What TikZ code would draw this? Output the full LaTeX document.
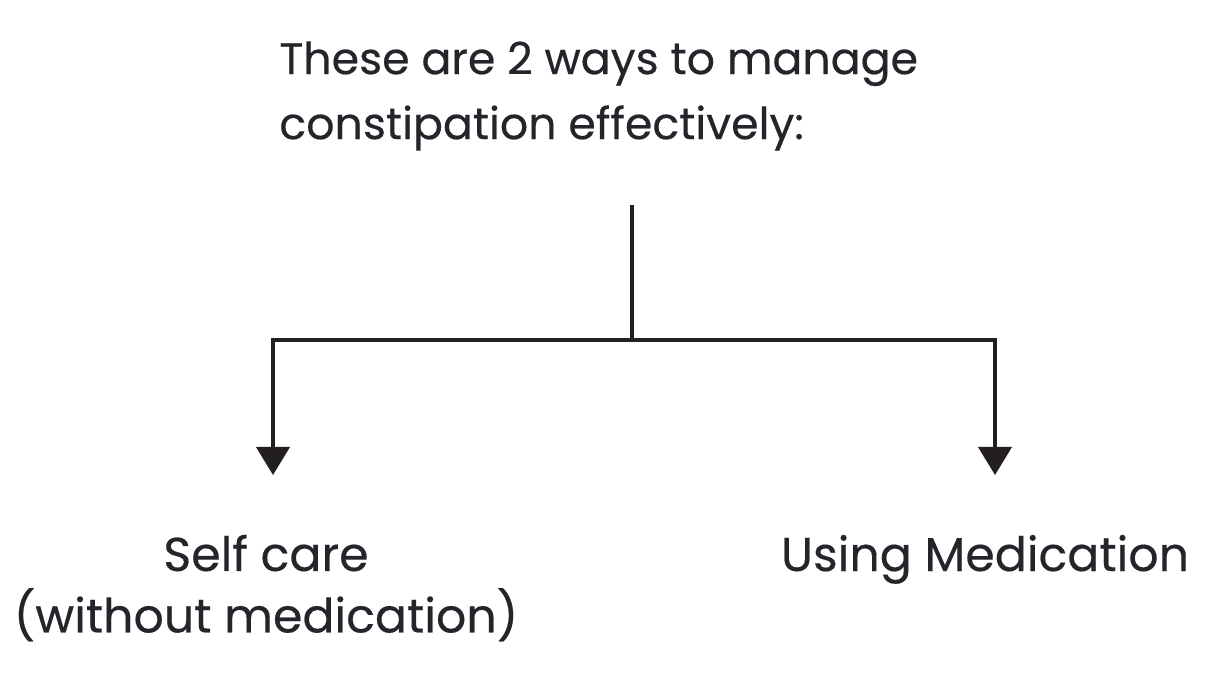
\documentclass[tikz,border=0pt]{standalone}
\usepackage{fontspec}
\setmainfont{Poppins}
\newfontfamily\diagfont{Poppins}[FakeBold=0.35]
\usetikzlibrary{arrows.meta}
\definecolor{inkdark}{HTML}{23252B}
\definecolor{linedark}{HTML}{231F20}

\begin{document}
\begin{tikzpicture}[x=0.02cm, y=-0.02cm,
		label/.style={font=\diagfont\fontsize{27}{35}\selectfont, text=inkdark, inner sep=0pt, align=center},
		link/.style={draw=linedark, line width=1.8pt},
		arr/.style={link, -{Triangle[width=19pt, length=16pt]}}]
		\useasboundingbox (0,0) rectangle (1212,672);
		% heading
		\node[label, font=\diagfont\fontsize{25.2}{35}\selectfont, align=left, anchor=west] (head) at (279,96)
			{These are 2 ways to manage\\[2pt]constipation effectively:};
		% branches
		\node[label] (self) at (266,588) {Self care\\(without medication)};
		\node[label, anchor=base] (meds) at (985,571) {Using Medication};
		\coordinate (top) at (632,205);
		\coordinate (hub) at (632,340);
		\coordinate (selftip) at (273,475);
		\coordinate (medstip) at (995,475);
		\draw[link] (top) -- (hub);
		\draw[arr] (hub) -| (selftip);
		\draw[arr] (hub) -| (medstip);
	\end{tikzpicture}
\end{document}
